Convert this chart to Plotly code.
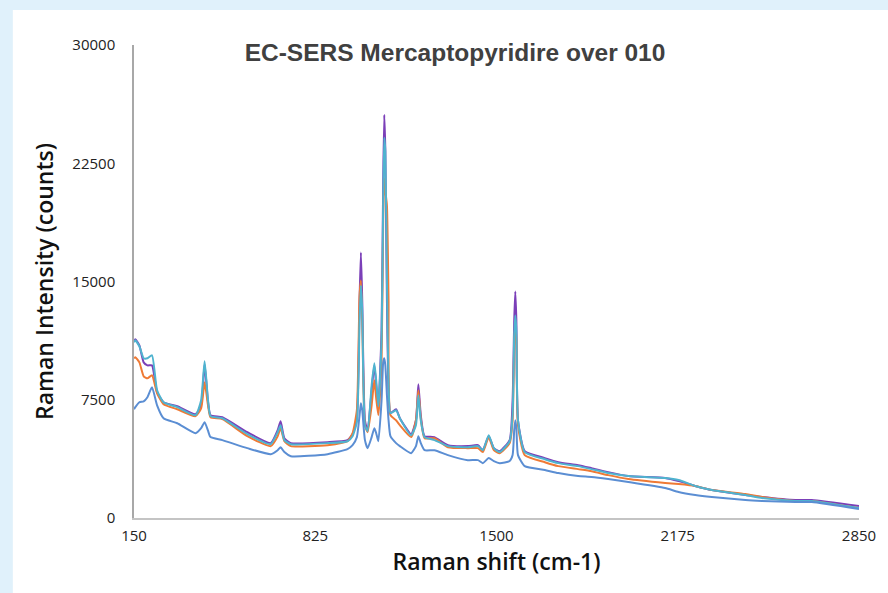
import plotly.graph_objects as go

# Raman shift (cm-1)
shift = [150, 155, 170, 186, 200, 217, 236, 260, 311, 379, 400, 413, 425, 435, 479,
         572, 659, 685, 696, 710, 734, 871, 945, 964, 980, 990, 995, 1000, 1010, 1020,
         1035, 1045, 1052, 1060, 1072, 1078, 1082, 1086, 1092, 1098, 1105, 1126, 1140,
         1182, 1200, 1209, 1218, 1232, 1269, 1319, 1393, 1431, 1449, 1471, 1490, 1512,
         1549, 1560, 1566, 1570, 1574, 1580, 1605, 1680, 1730, 1804, 1854, 1916, 1991,
         2128, 2178, 2240, 2302, 2427, 2489, 2613, 2674, 2850]

purple = [11200, 11330, 10950, 9870, 9680, 9680, 7975, 7340, 7090, 6580, 7150, 9750, 7470, 6520, 6390,
          5440, 4750, 5570, 6140, 5060, 4750, 4810, 4940, 5320, 6330, 13800, 16840, 13800, 6200, 5510,
          8100, 9680, 8420, 7150, 11900, 21390, 25570, 23290, 13800, 8100, 6650, 6900, 6330,
          5320, 6200, 8480, 6520, 5190, 5130, 4620, 4560, 4620, 4300, 5190, 4430, 4240,
          4940, 7470, 12530, 14370, 12530, 6200, 4240, 3800, 3540, 3350, 3160, 2910, 2660,
          2530, 2340, 2030, 1770, 1460, 1330, 1140, 1140, 760]

orange = [10130, 10190, 9870, 8990, 8860, 9050, 7910, 7220, 6900, 6460, 6960, 8610, 7220, 6390, 6270,
          5190, 4560, 5190, 5700, 4870, 4560, 4620, 4870, 5380, 6840, 14110, 15060, 12530, 5890, 5440,
          7150, 8730, 7590, 6520, 10000, 18860, 21520, 20760, 19800, 13800, 6520, 6200, 5890,
          5130, 6200, 8100, 6330, 5060, 5060, 4490, 4430, 4430, 4180, 5130, 4300, 4110,
          4750, 6200, 10950, 12400, 11270, 5890, 3990, 3540, 3290, 3100, 2970, 2720, 2470,
          2220, 2150, 2030, 1770, 1520, 1330, 1080, 1080, 630]

cyan = [11140, 11270, 10890, 10130, 10130, 10320, 8100, 7340, 7030, 6520, 7470, 9940, 7600, 6460, 6330,
        5320, 4680, 5440, 5890, 4940, 4680, 4750, 4870, 5190, 6080, 12530, 14750, 13160, 5890, 5510,
        8420, 9810, 8730, 7090, 11270, 20130, 24110, 23290, 15060, 8420, 6650, 6840, 6330,
        5250, 5890, 7780, 6200, 5130, 4940, 4560, 4490, 4560, 4300, 5250, 4430, 4180,
        4870, 6520, 11580, 12850, 11900, 6200, 4180, 3730, 3480, 3290, 3100, 2850, 2660,
        2530, 2410, 2030, 1770, 1460, 1270, 1080, 1080, 630]

blue = [6900, 7030, 7340, 7400, 7660, 8290, 7150, 6330, 6010, 5380, 5700, 6080, 5570, 5130, 4940,
        4430, 4050, 4300, 4490, 4180, 3920, 4050, 4370, 4620, 5130, 6520, 7280, 6840, 4940, 4430,
        5130, 5700, 5380, 4870, 7470, 9870, 10130, 9680, 7780, 6200, 5190, 4750, 4560,
        4110, 4560, 5190, 4750, 4300, 4300, 3990, 3670, 3670, 3480, 3800, 3610, 3480,
        3610, 3990, 5570, 6200, 5700, 3990, 3290, 3040, 2850, 2660, 2600, 2470, 2280,
        1900, 1650, 1460, 1330, 1140, 1080, 1010, 1010, 570]

x_ticks = [150, 825, 1500, 2175, 2850]
y_ticks = [0, 7500, 15000, 22500, 30000]

series = [
    ("Scan 1", purple, "#7b3fb8"),
    ("Scan 2", orange, "#ef7a35"),
    ("Scan 3", cyan, "#4fb3cf"),
    ("Scan 4", blue, "#5b8ed3"),
]

fig = go.Figure()
for name, vals, col in series:
    fig.add_trace(go.Scatter(x=shift, y=vals, mode="lines", name=name,
                             line=dict(color=col, width=2, shape="spline", smoothing=0.5)))

L, R, T, B = 134, 24, 45, 75
W, H = 888, 593
pw, ph = W - L - R, H - T - B

# white panel behind the chart (light-blue frame shows at top and left)
fig.add_shape(type="rect", xref="paper", yref="paper", layer="below",
              x0=(12 - L) / pw, x1=(W + 10 - L) / pw,
              y0=-(B + 10) / ph, y1=(H - B - 10) / ph,
              fillcolor="white", line=dict(width=0))

fig.update_layout(
    width=W, height=H,
    margin=dict(l=L, r=R, t=T, b=B),
    paper_bgcolor="#e0f1fb",
    plot_bgcolor="white",
    showlegend=False,
    title=dict(text="EC-SERS Mercaptopyridire over 010", x=455 / W, xanchor="center",
               y=1 - 52 / H, yanchor="middle", yref="container",
               font=dict(family="Liberation Sans", size=24.5, color="#404040", weight="bold")),
    font=dict(family="Open Sans", color="#222222"),
)
fig.update_xaxes(range=[150, 2850], tickvals=x_ticks, ticktext=[str(v) for v in x_ticks],
                 showgrid=False, zeroline=False, showline=True, linecolor="#c4c4c4", linewidth=2,
                 ticks="outside", ticklen=3, tickcolor="rgba(0,0,0,0)",
                 tickfont=dict(size=15, family="Open Sans", color="#222"),
                 title=dict(text="Raman shift (cm-1)", standoff=10,
                            font=dict(size=23, family="Open Sans", color="#111", weight=600)))
fig.update_yaxes(range=[0, 30000], tickvals=y_ticks, ticktext=[str(v) for v in y_ticks],
                 showgrid=False, zeroline=False, showline=True, linecolor="#a8a8a8", linewidth=1.5,
                 ticks="outside", ticklen=14, tickcolor="rgba(0,0,0,0)",
                 tickfont=dict(size=15, family="Open Sans", color="#222"),
                 title=dict(text="Raman Intensity (counts)", standoff=12,
                            font=dict(size=23, family="Open Sans", color="#111", weight=600)))

fig.write_html("out.html", config={"displayModeBar": False},
               post_script="document.body.style.margin='0';document.body.style.overflow='hidden';"
                           "document.body.style.background='#e0f1fb';")
